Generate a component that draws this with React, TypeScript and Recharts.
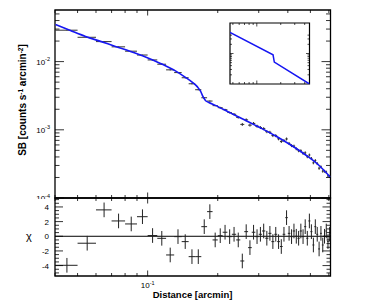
import React from 'react';
import {
  ComposedChart,
  Line,
  Scatter,
  ErrorBar,
  XAxis,
  YAxis,
  ReferenceLine,
  ReferenceArea,
} from 'recharts';

// frame geometry (pixels inside the 367x306 page)
const W = 367;
const H = 306;
const PL = 55;
const PR = 330.5;
const PT = 10;
const PM = 198; // border between profile and residual pads
const PB = 276;
const FONT = '"Liberation Sans", Arial, Helvetica, sans-serif';

const R_DOMAIN: [number, number] = [0.04, 0.61];
const SB_DOMAIN: [number, number] = [1e-4, 0.0571];
const CHI_DOMAIN: [number, number] = [-5.42, 5.22];

// radial bins (arcmin), 0.01 wide
const binR = [
  0.045, 0.055, 0.065, 0.075, 0.085, 0.095,
  0.105, 0.115, 0.125, 0.135, 0.145, 0.155, 0.165, 0.175, 0.185, 0.195,
  0.205, 0.215, 0.225, 0.235, 0.245, 0.255, 0.265, 0.275, 0.285, 0.295,
  0.305, 0.315, 0.325, 0.335, 0.345, 0.355, 0.365, 0.375, 0.385, 0.395,
  0.405, 0.415, 0.425, 0.435, 0.445, 0.455, 0.465, 0.475, 0.485, 0.495,
  0.505, 0.515, 0.525, 0.535, 0.545, 0.555, 0.565, 0.575, 0.585, 0.595,
  0.605,
];
const BIN_HALF = 0.005;

// surface brightness (counts s^-1 arcmin^-2)
const sbValues = [
  0.02887, 0.02272, 0.01965, 0.01646, 0.01421, 0.01249,
  0.01058, 0.00915, 0.00757, 0.0069, 0.0058, 0.00473, 0.00387, 0.00295, 0.00264, 0.00226,
  0.00211, 0.00197, 0.00179, 0.00169, 0.00152, 0.0012, 0.0014, 0.00117, 0.00124, 0.00113,
  0.00108, 0.00104, 0.000939, 0.00092, 0.000823, 0.000821, 0.000738, 0.000674, 0.000695, 0.000734,
  0.000631, 0.000586, 0.000576, 0.000527, 0.000494, 0.000493, 0.000452, 0.00046, 0.000403, 0.000427,
  0.00038, 0.000328, 0.000354, 0.00032, 0.000273, 0.000286, 0.000247, 0.000247, 0.00024, 0.000211,
  0.000209,
];
const sbErrors = [
  0.000289, 0.000227, 0.000197, 0.000165, 0.000142, 0.000125,
  0.000212, 0.000183, 0.000151, 0.000138, 0.000116, 0.0000946, 0.0000774, 0.000059, 0.0000528, 0.0000452,
  0.0000633, 0.0000591, 0.0000537, 0.0000676, 0.0000608, 0.00006, 0.00007, 0.0000585, 0.000062, 0.0000565,
  0.000054, 0.000052, 0.000047, 0.000046, 0.000041, 0.000041, 0.000037, 0.000034, 0.000035, 0.000037,
  0.000032, 0.000029, 0.000029, 0.000026, 0.000025, 0.000025, 0.000023, 0.000023, 0.00002, 0.000021,
  0.000019, 0.000016, 0.000018, 0.000016, 0.000014, 0.000014, 0.000012, 0.000012, 0.000012, 0.000011,
  0.00001,
];

// residuals (data - model) / error
const chiValues = [
  -3.96, -0.95, 3.6, 2.09, 1.68, 2.67,
  0.1, -0.28, -2.55, -0.05, -0.73, -2.78, -2.78, 1.31, 3.36, -0.5,
  0.08, 0.55, -0.05, 0.27, -0.5, -3.37, 0.63, -1.55, 0.55, -0.05,
  0.27, 0.72, -0.27, 0.4, -0.73, 0.27, -0.73, -1.4, 0.27, 2.54,
  0.4, -0.05, 0.72, 0.0, -0.27, 0.72, -0.05, 1.31, -0.27, 2.09,
  0.63, -1.19, 1.31, 0.27, -1.73, 0.4, -1.19, 0.0, 0.72, -0.73,
  0.27,
];

// best-fit projected model
const modelR = [
  0.0402, 0.0466, 0.0541, 0.0627, 0.0727, 0.0844, 0.0979, 0.1135, 0.1316, 0.1453,
  0.1557, 0.1636, 0.1685, 0.1727, 0.1771, 0.1824, 0.1954, 0.2266, 0.2629, 0.3048,
  0.3535, 0.4101, 0.4757, 0.5408, 0.6087,
];
const modelSB = [
  0.0351, 0.0286, 0.0234, 0.0198, 0.0167, 0.0141, 0.0117, 0.00941, 0.00731, 0.00587,
  0.00496, 0.00426, 0.00372, 0.00309, 0.00269, 0.00253, 0.00228, 0.00177, 0.00138, 0.00107,
  0.000817, 0.000603, 0.000431, 0.000307, 0.000202,
];

// inset: 3D density model with the jump
const insetR = [0.46, 1.6, 1.66, 4.6];
const insetN = [0.49, 0.091, 0.052, 0.01];

const rTicks = [0.04, 0.05, 0.06, 0.07, 0.08, 0.09, 0.1, 0.2, 0.3, 0.4, 0.5, 0.6];
const sbTicks = [
  1e-4, 2e-4, 3e-4, 4e-4, 5e-4, 6e-4, 7e-4, 8e-4, 9e-4,
  1e-3, 2e-3, 3e-3, 4e-3, 5e-3, 6e-3, 7e-3, 8e-3, 9e-3,
  1e-2, 2e-2, 3e-2, 4e-2, 5e-2,
];
const chiTicks = [-5, -4.5, -4, -3.5, -3, -2.5, -2, -1.5, -1, -0.5, 0, 0.5, 1, 1.5, 2, 2.5, 3, 3.5, 4, 4.5, 5];
const chiLabels = [-4, -2, 0, 2, 4];
const insetRTicks = [0.5, 0.6, 0.7, 0.8, 0.9, 1, 2, 3, 4];
const insetNTicks = [0.02, 0.03, 0.04, 0.05, 0.06, 0.07, 0.08, 0.09, 0.1, 0.2, 0.3, 0.4];

const sbRows = binR.map((r, i) => ({ r, sb: sbValues[i], dr: BIN_HALF, dsb: sbErrors[i] }));
const chiRows = binR.map((r, i) => ({ r, chi: chiValues[i], dr: BIN_HALF, dchi: 1 }));
const modelRows = modelR.map((r, i) => ({ r, sb: modelSB[i] }));
const insetRows = insetR.map((r, i) => ({ r, n: insetN[i] }));

const isDecade = (v: number) => Math.abs(Math.log10(v) - Math.round(Math.log10(v))) < 1e-6;
const noMarker = () => <g />;

function PowerLabel({ x, y, exp, anchor }: { x: number; y: number; exp: number; anchor: string }) {
  return (
    <text x={x} y={y} textAnchor={anchor} fontSize={8} fontFamily={FONT} fill="#000">
      10
      <tspan dy={-3.5} fontSize={5.5}>
        {exp}
      </tspan>
    </text>
  );
}

function SbTick(props: any) {
  const { y, payload } = props;
  const major = isDecade(payload.value);
  const len = major ? 9 : 4.5;
  return (
    <g>
      <line x1={PL} x2={PL + len} y1={y} y2={y} stroke="#000" strokeWidth={0.8} />
      <line x1={PR} x2={PR - len} y1={y} y2={y} stroke="#000" strokeWidth={0.8} />
      {major && <PowerLabel x={PL - 5} y={y + 3} exp={Math.round(Math.log10(payload.value))} anchor="end" />}
    </g>
  );
}

function makeRTick(top: number, bottom: number, withLabel: boolean) {
  return (props: any) => {
    const { x, payload } = props;
    const major = isDecade(payload.value);
    const len = major ? 5.5 : 3;
    return (
      <g>
        <line x1={x} x2={x} y1={bottom} y2={bottom - len} stroke="#000" strokeWidth={0.8} />
        <line x1={x} x2={x} y1={top} y2={top + len} stroke="#000" strokeWidth={0.8} />
        {withLabel && major && (
          <PowerLabel x={x} y={bottom + 12} exp={Math.round(Math.log10(payload.value))} anchor="middle" />
        )}
      </g>
    );
  };
}
const RTickMain = makeRTick(PT, PM, false);
const RTickRes = makeRTick(PM, PB, true);

function ChiTick(props: any) {
  const { y, payload } = props;
  const v = payload.value;
  const major = chiLabels.includes(v);
  const len = major ? 8 : 4;
  return (
    <g>
      <line x1={PL} x2={PL + len} y1={y} y2={y} stroke="#000" strokeWidth={0.8} />
      <line x1={PR} x2={PR - len} y1={y} y2={y} stroke="#000" strokeWidth={0.8} />
      {major && (
        <text x={PL - 6} y={y + 3} textAnchor="end" fontSize={8} fontFamily={FONT} fill="#000">
          {v}
        </text>
      )}
    </g>
  );
}

// inset plot box in its own svg
const IL = 4;
const IR = 83.5;
const IT = 4;
const IB = 65;

function InsetRTick(props: any) {
  const { x, payload } = props;
  const len = isDecade(payload.value) ? 3.5 : 2;
  return (
    <g>
      <line x1={x} x2={x} y1={IB} y2={IB - len} stroke="#000" strokeWidth={0.7} />
      <line x1={x} x2={x} y1={IT} y2={IT + len} stroke="#000" strokeWidth={0.7} />
    </g>
  );
}

function InsetNTick(props: any) {
  const { y, payload } = props;
  const len = isDecade(payload.value) ? 3.5 : 2;
  return (
    <g>
      <line x1={IL} x2={IL + len} y1={y} y2={y} stroke="#000" strokeWidth={0.7} />
      <line x1={IR} x2={IR - len} y1={y} y2={y} stroke="#000" strokeWidth={0.7} />
    </g>
  );
}

const abs = (left: number, top: number): React.CSSProperties => ({ position: 'absolute', left, top });

// axes need a non-zero size to be drawn, so they get 1px taken from the margin
const xAxisCommon = {
  dataKey: 'r',
  type: 'number' as const,
  scale: 'log' as const,
  allowDataOverflow: true,
  interval: 0,
  tickLine: false,
  axisLine: false,
  height: 1,
};

export default function App() {
  return (
    <div style={{ position: 'absolute', left: 0, top: 0, width: W, height: H, background: '#fff', overflow: 'hidden' }}>
      {/* surface brightness profile */}
      <div style={abs(0, 0)}>
        <ComposedChart width={W} height={H} margin={{ top: PT, right: W - PR, bottom: H - PM - 1, left: PL - 1 }}>
          <XAxis {...xAxisCommon} domain={R_DOMAIN} ticks={rTicks} tick={RTickMain} />
          <YAxis
            dataKey="sb"
            type="number"
            scale="log"
            domain={SB_DOMAIN}
            allowDataOverflow
            ticks={sbTicks}
            interval={0}
            tick={SbTick}
            tickLine={false}
            axisLine={false}
            width={1}
          />
          <Scatter data={sbRows} dataKey="sb" shape={noMarker} isAnimationActive={false}>
            <ErrorBar dataKey="dr" direction="x" width={0} stroke="#333" strokeWidth={1} />
            <ErrorBar dataKey="dsb" direction="y" width={0} stroke="#333" strokeWidth={1} />
          </Scatter>
          <Line
            data={modelRows}
            dataKey="sb"
            type="monotone"
            stroke="#1616f2"
            strokeWidth={1.6}
            dot={false}
            isAnimationActive={false}
          />
          <ReferenceArea
            x1={R_DOMAIN[0]}
            x2={R_DOMAIN[1]}
            y1={SB_DOMAIN[0]}
            y2={SB_DOMAIN[1]}
            fill="none"
            fillOpacity={0}
            stroke="#000"
            strokeWidth={1.3}
            ifOverflow="visible"
          />
        </ComposedChart>
      </div>

      {/* lower pad hides what hangs below the profile frame */}
      <div style={{ ...abs(0, PM + 1), width: W, height: H - PM - 1, background: '#fff' }} />

      {/* residuals */}
      <div style={abs(0, 0)}>
        <ComposedChart width={W} height={H} margin={{ top: PM, right: W - PR, bottom: H - PB - 1, left: PL - 1 }}>
          <XAxis {...xAxisCommon} domain={R_DOMAIN} ticks={rTicks} tick={RTickRes} />
          <YAxis
            dataKey="chi"
            type="number"
            domain={CHI_DOMAIN}
            allowDataOverflow
            ticks={chiTicks}
            interval={0}
            tick={ChiTick}
            tickLine={false}
            axisLine={false}
            width={1}
          />
          <ReferenceLine y={0} stroke="#000" strokeWidth={1} />
          <Scatter data={chiRows} dataKey="chi" shape={noMarker} isAnimationActive={false}>
            <ErrorBar dataKey="dr" direction="x" width={0} stroke="#222" strokeWidth={1} />
            <ErrorBar dataKey="dchi" direction="y" width={0} stroke="#222" strokeWidth={1} />
          </Scatter>
          <ReferenceArea
            x1={R_DOMAIN[0]}
            x2={R_DOMAIN[1]}
            y1={CHI_DOMAIN[0]}
            y2={CHI_DOMAIN[1]}
            fill="none"
            fillOpacity={0}
            stroke="#000"
            strokeWidth={1.3}
            ifOverflow="visible"
          />
        </ComposedChart>
      </div>

      {/* inset */}
      <div style={abs(226, 19)}>
        <ComposedChart width={88} height={70} margin={{ top: IT, right: 88 - IR, bottom: 70 - IB - 1, left: IL - 1 }}>
          <XAxis {...xAxisCommon} domain={[0.46, 4.6]} ticks={insetRTicks} tick={InsetRTick} />
          <YAxis
            dataKey="n"
            type="number"
            scale="log"
            domain={[0.01, 1]}
            allowDataOverflow
            ticks={insetNTicks}
            interval={0}
            tick={InsetNTick}
            tickLine={false}
            axisLine={false}
            width={1}
          />
          <Line
            data={insetRows}
            dataKey="n"
            type="linear"
            stroke="#1616f2"
            strokeWidth={1.5}
            dot={false}
            isAnimationActive={false}
          />
          <ReferenceArea
            x1={0.46}
            x2={4.6}
            y1={0.01}
            y2={1}
            fill="none"
            fillOpacity={0}
            stroke="#000"
            strokeWidth={1.2}
            ifOverflow="visible"
          />
        </ComposedChart>
      </div>

      {/* axis titles */}
      <svg width={W} height={H} style={{ ...abs(0, 0), pointerEvents: 'none' }}>
        <text
          transform="translate(26,100) rotate(-90)"
          textAnchor="middle"
          fontSize={10}
          fontWeight="bold"
          fontFamily={FONT}
          fill="#000"
        >
          SB [counts s<tspan dy={-3.5} fontSize={6.5}>-1</tspan>
          <tspan dy={3.5}> arcmin</tspan>
          <tspan dy={-3.5} fontSize={6.5}>-2</tspan>
          <tspan dy={3.5}>]</tspan>
        </text>
        <text x={29} y={240} textAnchor="middle" fontSize={11} fontFamily={FONT} fill="#000">
          χ
        </text>
        <text x={192.5} y={298} textAnchor="middle" fontSize={9.5} fontWeight="bold" fontFamily={FONT} fill="#000">
          Distance [arcmin]
        </text>
      </svg>
    </div>
  );
}
